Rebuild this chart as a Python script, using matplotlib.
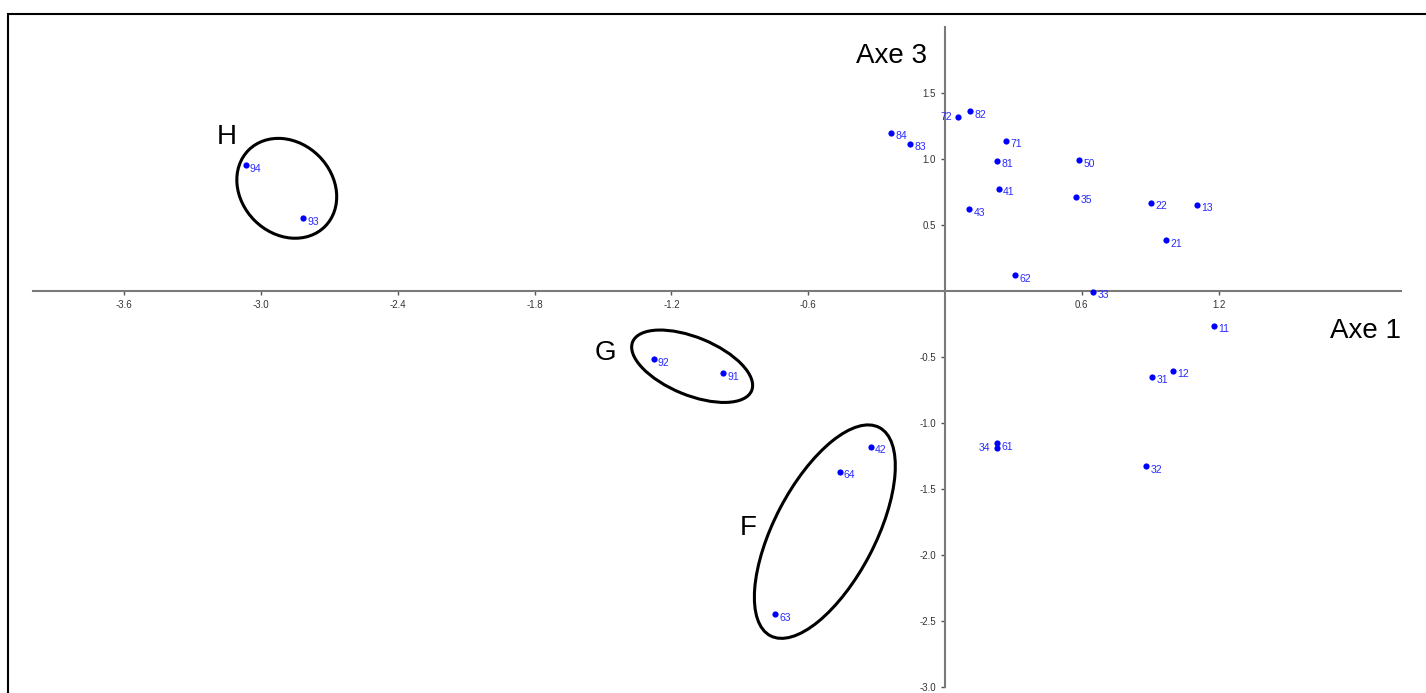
import numpy as np
import matplotlib
matplotlib.use('Agg')
import matplotlib.pyplot as plt
from matplotlib.patches import Ellipse, Rectangle
from matplotlib.transforms import ScaledTranslation

plt.rcParams['font.family'] = 'Liberation Sans'

# Points (Axe 1, Axe 3)
LABELS = ['72', '82', '84', '83', '71', '81', '50', '41', '35', '43', '22', '13', '21', '62', '33',
          '11', '12', '31', '61', '34', '32', '92', '91', '42', '64', '63', '94', '93']
AXE1 = [0.058, 0.11, -0.237, -0.154, 0.268, 0.228, 0.589, 0.235, 0.575, 0.107, 0.904, 1.107, 0.971, 0.307, 0.65,
        1.178, 1.001, 0.909, 0.23, 0.226, 0.883, -1.278, -0.972, -0.325, -0.462, -0.746, -3.067, -2.814]
AXE3 = [1.318, 1.36, 1.197, 1.114, 1.139, 0.988, 0.992, 0.775, 0.712, 0.621, 0.667, 0.652, 0.386, 0.119, -0.005,
        -0.263, -0.604, -0.649, -1.155, -1.19, -1.328, -0.518, -0.624, -1.18, -1.369, -2.45, 0.952, 0.551]
LEFT_LABELS = ['72', '34']  # labels written on the left of the point

XTICKS = [-3.6, -3.0, -2.4, -1.8, -1.2, -0.6, 0.6, 1.2]
YTICKS = [-3.0, -2.5, -2.0, -1.5, -1.0, -0.5, 0.5, 1.0, 1.5]

# Groups: name, name position, ellipse centre (data), size (inches), angle
GROUPS = ['H', 'G', 'F']
GROUP_TXT_X = [-3.193, -1.535, -0.899]
GROUP_TXT_Y = [1.114, -0.523, -1.848]
ELL_CX = [-2.887, -1.109, -0.527]
ELL_CY = [0.778, -0.570, -1.823]
ELL_W = [1.08, 1.286, 2.35]
ELL_H = [0.91, 0.578, 1.01]
ELL_ANGLE = [-45, -22.3, 62.4]

fig = plt.figure(figsize=(14.26, 6.93), dpi=100)
ax = fig.add_axes([33 / 1426, 6 / 693, 1368 / 1426, 660 / 693])
ax.set_xlim(-4.0, 2.0)
ax.set_ylim(-3.0, 2.0)

# axes through the origin
for s in ['top', 'right']:
    ax.spines[s].set_visible(False)
ax.spines['left'].set_position(('data', 0))
ax.spines['bottom'].set_position(('data', 0))
for s in ['left', 'bottom']:
    ax.spines[s].set_color('#7a7a7a')
    ax.spines[s].set_linewidth(1.5)
ax.set_xticks(XTICKS)
ax.set_yticks(YTICKS)
ax.set_xticklabels([f'{v:.1f}' for v in XTICKS])
ax.set_yticklabels([f'{v:.1f}' for v in YTICKS])
ax.tick_params(axis='both', direction='out', length=3, width=1, color='#555555',
               labelsize=7, labelcolor='#333333', pad=3.5)
ax.patch.set_visible(False)

# points
ax.scatter(AXE1, AXE3, s=20, color='blue', zorder=3, linewidths=0)
for lab, x, y in zip(LABELS, AXE1, AXE3):
    if lab in LEFT_LABELS:
        ax.annotate(lab, (x, y), xytext=(-4.5, 0), textcoords='offset points',
                    ha='right', va='center', fontsize=7.5, color='#2a2aff')
    else:
        ax.annotate(lab, (x, y), xytext=(3, -2.5), textcoords='offset points',
                    ha='left', va='center', fontsize=7.5, color='#2a2aff')

# group ellipses
for i, g in enumerate(GROUPS):
    tr = fig.dpi_scale_trans + ScaledTranslation(ELL_CX[i], ELL_CY[i], ax.transData)
    ax.add_patch(Ellipse((0, 0), ELL_W[i], ELL_H[i], angle=ELL_ANGLE[i], transform=tr,
                         fill=False, edgecolor='black', linewidth=2.2))
    ax.text(GROUP_TXT_X[i], GROUP_TXT_Y[i], g, fontsize=20, ha='left', va='baseline')

# axis titles
ax.text(-0.39, 1.725, 'Axe 3', fontsize=20, ha='left', va='baseline')
ax.text(1.689, -0.356, 'Axe 1', fontsize=20, ha='left', va='baseline')

# outer frame (cropped at right and bottom)
fig.add_artist(Rectangle((8 / 1426, -0.2), 1.2, (693 - 14) / 693 + 0.2, transform=fig.transFigure,
                         fill=False, edgecolor='black', linewidth=1.5))

fig.savefig('out.png', dpi=100)
